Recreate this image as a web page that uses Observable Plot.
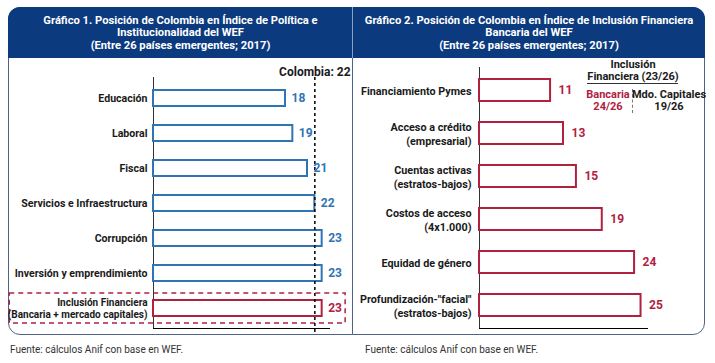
<!DOCTYPE html>
<html>
<head>
<meta charset="utf-8">
<script src="https://cdn.jsdelivr.net/npm/d3@7"></script>
<script src="https://cdn.jsdelivr.net/npm/@observablehq/plot@0.6"></script>
<style>
  html, body { margin: 0; padding: 0; background: #fff; }
  body { width: 715px; height: 363px; position: relative; overflow: hidden; font-family: Roboto, "DejaVu Sans Condensed", sans-serif; }
  .panel { position: absolute; top: 7px; height: 328px; box-sizing: border-box; border: 1px solid #4f6384; background: #fff; }
  #p1 { left: 8px; width: 345px; border-radius: 12px 0 0 12px; }
  #p2 { left: 352px; width: 353px; border-radius: 0 12px 12px 0; }
  .hdr { position: absolute; left: -1px; right: -1px; top: -1px; height: 51px; background: #0c3a7e; color: #fff;
         font-weight: bold; font-size: 11.2px; line-height: 12.4px; text-align: center; box-sizing: border-box; padding-top: 8px; }
  #p1 .hdr { border-top-left-radius: 12px; }
  #p2 .hdr { border-top-right-radius: 12px; border-left: 1px solid #8aa0c0; }
  .chart { position: absolute; top: 57px; }
  .src { position: absolute; top: 344px; font-size: 10px; color: #333; }
  .ann { position: absolute; transform: translate(-50%, -50%); font-weight: bold; font-size: 11px; white-space: nowrap; color: #1a1a1a; line-height: 11px; }
</style>
</head>
<body>
<div class="panel" id="p1"><div class="hdr">Gráfico 1. Posición de Colombia en Índice de Política e<br>Institucionalidad del WEF<br>(Entre 26 países emergentes; 2017)</div></div>
<div class="panel" id="p2"><div class="hdr">Gráfico 2. Posición de Colombia en Índice de Inclusión Financiera<br>Bancaria del WEF<br>(Entre 26 países emergentes; 2017)</div></div>
<div class="chart" id="c1" style="left:8px"></div>
<div class="chart" id="c2" style="left:353px"></div>
<div class="src" style="left:10px">Fuente: cálculos Anif con base en WEF.</div>
<div class="src" style="left:365px">Fuente: cálculos Anif con base en WEF.</div>

<div class="ann" style="left:633px;top:64px">Inclusión</div>
<div class="ann" style="left:633px;top:76px">Financiera (23/26)</div>
<div style="position:absolute;left:587px;top:83px;width:91px;height:0;border-top:1px solid #333"></div>
<div class="ann" style="left:608px;top:94px;color:#b0213f">Bancaria</div>
<div class="ann" style="left:608px;top:106px;color:#b0213f">24/26</div>
<div style="position:absolute;left:632px;top:89px;width:0;height:24px;border-left:1px dashed #777"></div>
<div class="ann" style="left:669px;top:94px">Mdo. Capitales</div>
<div class="ann" style="left:669px;top:106px">19/26</div>

<script>
// ---- Data: Gráfico 1 ----
const cats1 = ["Educación", "Laboral", "Fiscal", "Servicios e Infraestructura", "Corrupción",
               "Inversión y emprendimiento", "Inclusión Financiera\n(Bancaria + mercado capitales)"];
const vals1 = [18, 19, 21, 22, 23, 23, 23];
const highlight1 = "Inclusión Financiera\n(Bancaria + mercado capitales)";
const colombia1 = 22;
const xMax1 = 24;
const highlightSpan1 = [-19.6, 26.2];

// ---- Data: Gráfico 2 ----
const cats2 = ["Financiamiento Pymes", "Acceso a crédito\n(empresarial)", "Cuentas activas\n(estratos-bajos)",
               "Costos de acceso\n(4x1.000)", "Equidad de género", "Profundización-\"facial\"\n(estratos-bajos)"];
const vals2 = [11, 13, 15, 19, 24, 25];
const xMax2 = 26;

const BLUE = "#2f74b5", RED = "#b0213f", INK = "#1a1a1a";
const FONT = "Roboto, 'DejaVu Sans Condensed', sans-serif";

const d1 = cats1.map((c, i) => ({c, v: vals1[i], hl: c === highlight1}));
const d2 = cats2.map((c, i) => ({c, v: vals2[i]}));

const chart1 = Plot.plot({
  width: 344, height: 279,
  marginLeft: 145, marginRight: 23, marginTop: 20, marginBottom: 8,
  style: {background: "transparent", fontFamily: FONT, overflow: "visible"},
  x: {domain: [0, xMax1], line: true, tickSize: 0, tickFormat: () => "", label: null},
  y: {domain: cats1, axis: null, paddingInner: 0.543, paddingOuter: 0.3},
  marks: [
    Plot.barX([highlight1], {y: d => d, x1: () => highlightSpan1[0], x2: () => highlightSpan1[1],
      fill: "none", stroke: RED, strokeWidth: 1.5, strokeDasharray: "5,4", insetTop: -7, insetBottom: -7}),
    Plot.ruleX([0], {stroke: "#333", strokeWidth: 1}),
    Plot.barX(d1.filter(d => !d.hl), {x: "v", y: "c", fill: "white", stroke: BLUE, strokeWidth: 2}),
    Plot.barX(d1.filter(d => d.hl), {x: "v", y: "c", fill: "white", stroke: RED, strokeWidth: 2}),
    Plot.ruleX([colombia1], {stroke: "#111", strokeWidth: 1.6, strokeDasharray: "3,3", insetBottom: -4}),
    Plot.text([colombia1], {x: d => d, frameAnchor: "top", dy: -10, text: d => `Colombia: ${d}`,
      fontWeight: "bold", fontSize: 12, fill: INK}),
    Plot.text(d1.filter(d => !d.hl), {x: "v", y: "c", text: d => String(d.v), dx: 6, textAnchor: "start",
      fontWeight: "bold", fontSize: 12, fill: BLUE}),
    Plot.text(d1.filter(d => d.hl), {x: "v", y: "c", text: d => String(d.v), dx: 6, textAnchor: "start",
      fontWeight: "bold", fontSize: 12, fill: RED}),
    Plot.text(d1.filter(d => !d.hl), {y: "c", frameAnchor: "left", dx: -6, text: "c", textAnchor: "end",
      fontWeight: "bold", fontSize: 10.6, fill: INK}),
    Plot.text(d1.filter(d => d.hl), {y: "c", frameAnchor: "left", dx: -6, text: "c", textAnchor: "end",
      fontWeight: "bold", fontSize: 10, fill: INK, lineHeight: 1.2})
  ]
});
document.getElementById("c1").append(chart1);

const chart2 = Plot.plot({
  width: 351, height: 279,
  marginLeft: 126, marginRight: 57, marginTop: 10, marginBottom: 8,
  style: {background: "transparent", fontFamily: FONT, overflow: "visible"},
  x: {domain: [0, xMax2], line: true, tickSize: 0, tickFormat: () => "", label: null},
  y: {domain: cats2, axis: null, paddingInner: 0.486, paddingOuter: 0.26},
  marks: [
    Plot.ruleX([0], {stroke: "#333", strokeWidth: 1}),
    Plot.barX(d2, {x: "v", y: "c", fill: "white", stroke: RED, strokeWidth: 2}),
    Plot.text(d2, {x: "v", y: "c", text: d => String(d.v), dx: 8, textAnchor: "start",
      fontWeight: "bold", fontSize: 12, fill: RED}),
    Plot.text(d2, {y: "c", frameAnchor: "left", dx: -8, text: "c", textAnchor: "end",
      fontWeight: "bold", fontSize: 10.8, fill: INK, lineHeight: 1.35})
  ]
});
document.getElementById("c2").append(chart2);
</script>
</body>
</html>
